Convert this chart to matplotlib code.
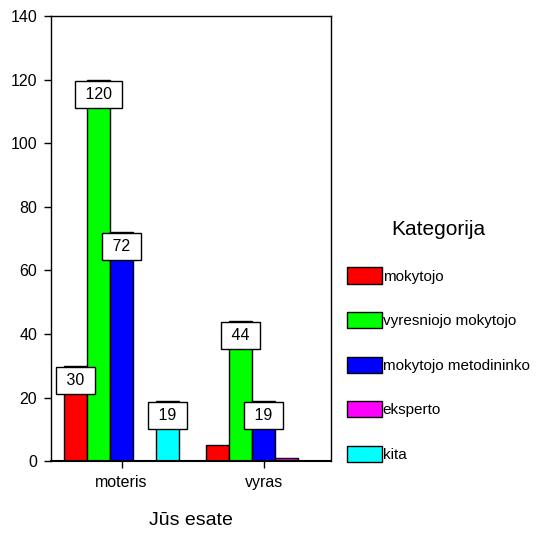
import numpy as np
import matplotlib.pyplot as plt

plt.rcParams['font.family'] = ['Liberation Sans', 'DejaVu Sans']

# data
groups = ['moteris', 'vyras']
categories = ['mokytojo', 'vyresniojo mokytojo', 'mokytojo metodininko', 'eksperto', 'kita']
counts = {
    'mokytojo': [30, 5],
    'vyresniojo mokytojo': [120, 44],
    'mokytojo metodininko': [72, 19],
    'eksperto': [0, 1],
    'kita': [19, 0],
}
colors = ['#ff0000', '#00ff00', '#0000ff', '#ff00ff', '#00ffff']
min_labelled = 10  # small bars carry no value box

fig = plt.figure(figsize=(5.49, 5.35), dpi=100)
ax = fig.add_axes([0.093, 0.138, 0.51, 0.832])

x = np.arange(len(groups))
width = 0.162
offsets = (np.arange(len(categories)) - (len(categories) - 1) / 2) * width

for cat, col, off in zip(categories, colors, offsets):
    vals = counts[cat]
    bars = ax.bar(x + off, vals, width, color=col, edgecolor='black', linewidth=1.0,
                  label=cat, zorder=2)
    for rect, v in zip(bars, vals):
        if v < min_labelled:
            continue
        ax.annotate(f' {v} ', xy=(rect.get_x() + rect.get_width() / 2, v),
                    xytext=(0, -10.5), textcoords='offset points',
                    ha='center', va='center', fontsize=11.5, zorder=4,
                    bbox=dict(boxstyle='square,pad=0.38', fc='white', ec='black', lw=1.0))

ax.set_xlim(-0.496, 1.475)
ax.set_ylim(0, 140)
ax.set_yticks(np.arange(0, 141, 20))
ax.set_xticks(x)
ax.set_xticklabels(groups)
ax.tick_params(axis='both', direction='out', length=5, width=1, labelsize=11.5, pad=5)
for s in ax.spines.values():
    s.set_linewidth(1.0)
ax.spines['bottom'].set_linewidth(1.5)
ax.set_xlabel('Jūs esate', fontsize=14, labelpad=16)

leg = fig.legend(loc='upper left', bbox_to_anchor=(0.632, 0.589), frameon=False,
                 title='Kategorija', title_fontsize=15, fontsize=11,
                 handlelength=2.3, handleheight=1.25, handletextpad=0.05,
                 labelspacing=1.86, borderpad=0, borderaxespad=0)
leg._legend_box.sep = 20.5

fig.savefig('out.png', dpi=100)
